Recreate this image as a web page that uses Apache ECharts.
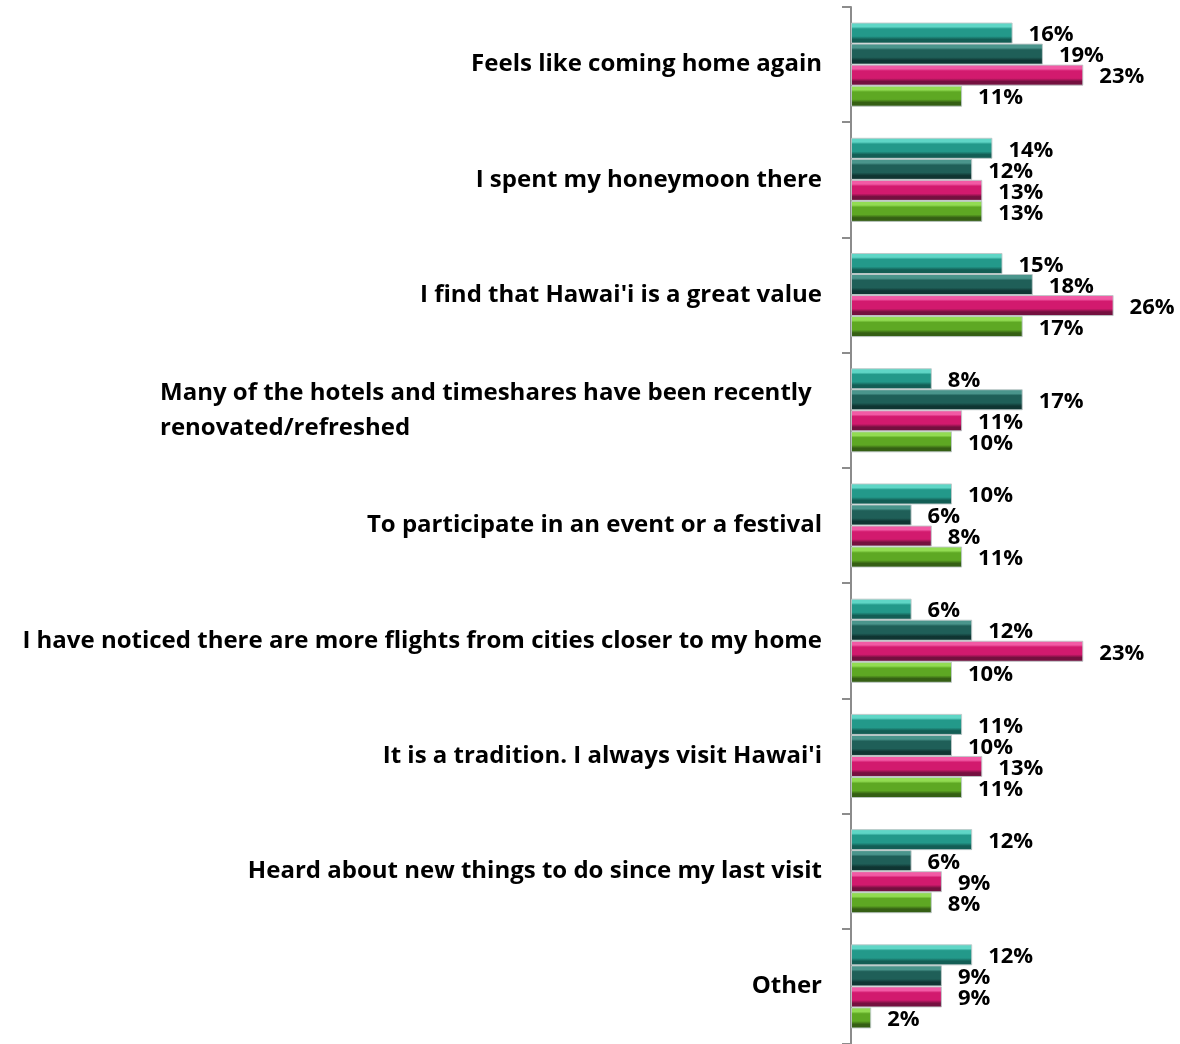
<!DOCTYPE html>
<html>
<head>
<meta charset="utf-8">
<script src="https://cdn.jsdelivr.net/npm/echarts@6/dist/echarts.min.js"></script>
<style>
  html, body { margin: 0; padding: 0; background: #fff; }
  #chart { width: 1180px; height: 1044px; }
</style>
</head>
<body>
<div id="chart"></div>
<script>
// categories, top to bottom
var categories = [
  'Feels like coming home again',
  'I spent my honeymoon there',
  "I find that Hawai'i is a great value",
  'Many of the hotels and timeshares have been recently\nrenovated/refreshed',
  'To participate in an event or a festival',
  'I have noticed there are more flights from cities closer to my home',
  "It is a tradition. I always visit Hawai'i",
  'Heard about new things to do since my last visit',
  'Other'
];

var seriesNames = ['Segment 1', 'Segment 2', 'Segment 3', 'Segment 4'];

var values1 = [16, 14, 15, 8, 10, 6, 11, 12, 12];
var values2 = [19, 12, 18, 17, 6, 12, 10, 6, 9];
var values3 = [23, 13, 26, 11, 8, 23, 13, 9, 9];
var values4 = [11, 13, 17, 10, 11, 10, 11, 8, 2];

// light / mid / dark for the bevelled look
var palette = [
  ['#5fd6c6', '#23998a', '#135e55'],
  ['#4a958c', '#1f5f58', '#0f3532'],
  ['#f25aa5', '#d21a6e', '#74103f'],
  ['#92dc52', '#5ea823', '#355f14']
];

function bevel(c) {
  return new echarts.graphic.LinearGradient(0, 0, 0, 1, [
    { offset: 0, color: c[0] },
    { offset: 0.2, color: c[0] },
    { offset: 0.3, color: c[1] },
    { offset: 0.65, color: c[1] },
    { offset: 0.8, color: c[2] },
    { offset: 1, color: c[2] }
  ]);
}

var chart = echarts.init(document.getElementById('chart'));

var data = [values1, values2, values3, values4];
var series = data.map(function (vals, i) {
  return {
    name: seriesNames[i],
    type: 'bar',
    barGap: '0%',
    barCategoryGap: '27%',
    data: vals,
    itemStyle: {
      color: bevel(palette[i]),
      borderColor: 'rgba(190,200,200,0.9)',
      borderWidth: 1
    },
    label: {
      show: true,
      position: 'right',
      distance: 16,
      offset: [0, 2],
      formatter: '{c}%',
      color: '#000',
      fontFamily: 'Open Sans',
      fontWeight: 'bold',
      fontSize: 22
    }
  };
});

var option = {
  animation: false,
  backgroundColor: '#fff',
  grid: {
    left: 851,
    top: 7,
    width: 303,
    height: 1040
  },
  xAxis: {
    type: 'value',
    min: 0,
    max: 30,
    show: false
  },
  yAxis: {
    type: 'category',
    inverse: true,
    data: categories,
    axisLine: { show: true, lineStyle: { color: '#8c8c8c', width: 2 } },
    axisTick: { show: true, length: 9, lineStyle: { color: '#8c8c8c', width: 2 } },
    axisLabel: {
      margin: 29,
      color: '#000',
      fontFamily: 'Open Sans',
      fontWeight: 'bold',
      fontSize: 24,
      lineHeight: 35,
      formatter: function (v) {
        if (v.indexOf('\n') < 0) return v;
        return v.split('\n').map(function (s) { return '{w|' + s + '}'; }).join('\n');
      },
      rich: {
        w: {
          width: 662,
          align: 'left',
          color: '#000',
          fontFamily: 'Open Sans',
          fontWeight: 'bold',
          fontSize: 24,
          lineHeight: 35
        }
      }
    }
  },
  series: series
};

chart.setOption(option);
</script>
</body>
</html>
